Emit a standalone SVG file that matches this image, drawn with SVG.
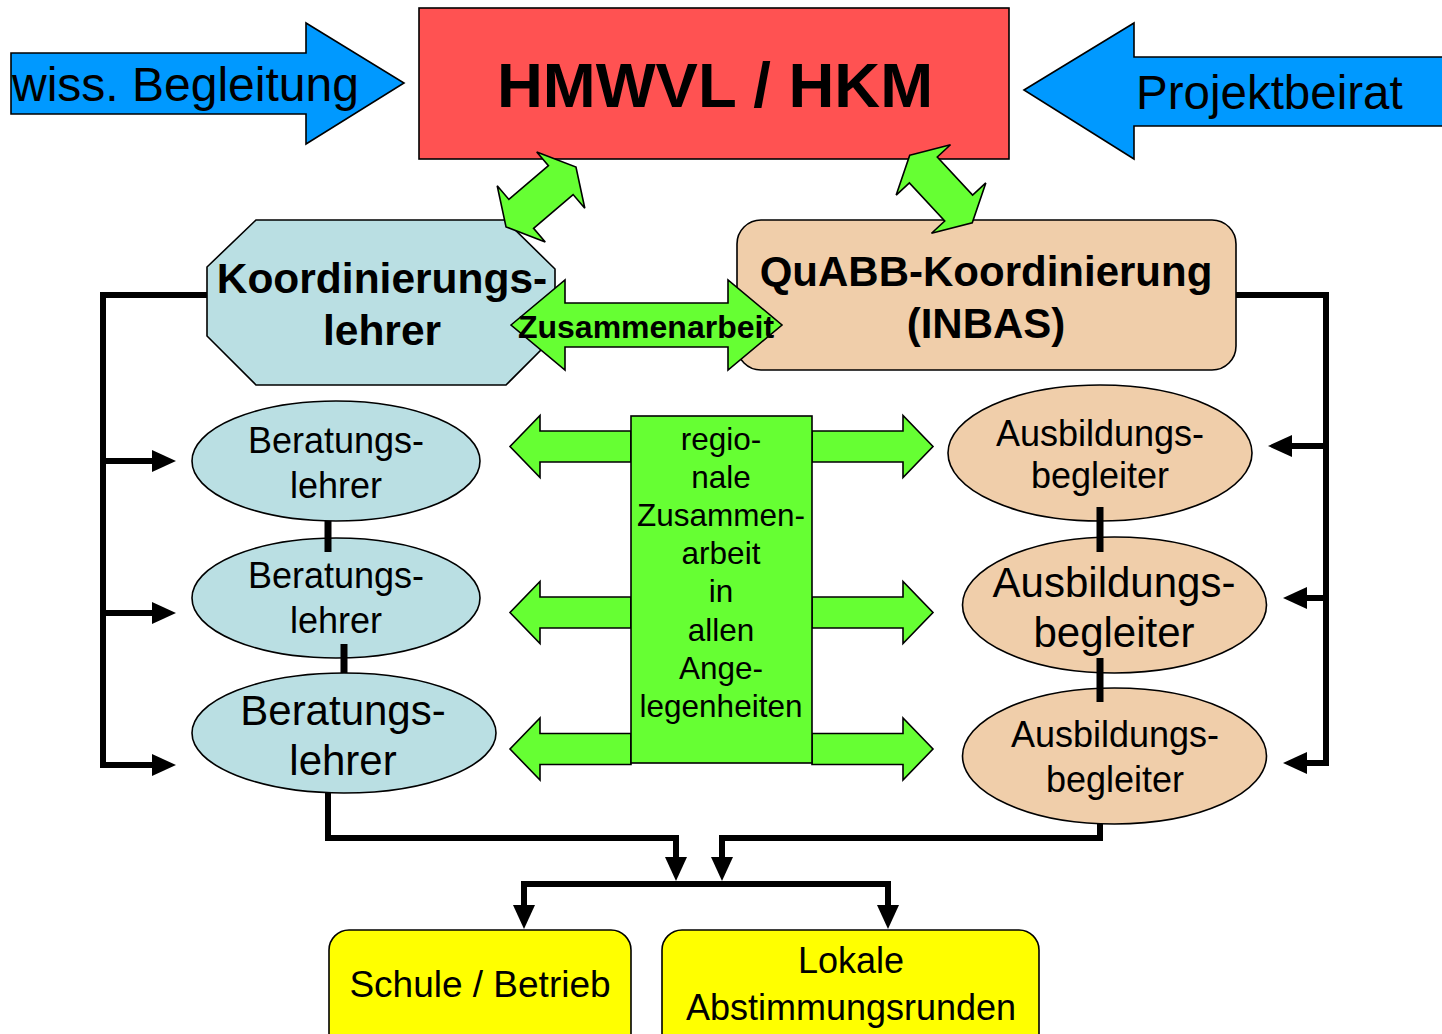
<svg xmlns="http://www.w3.org/2000/svg" width="1442" height="1034" viewBox="0 0 1442 1034">
<style>
text{font-family:"Liberation Sans",Arial,Helvetica,sans-serif;fill:#000}
.b{font-weight:bold}
.c{text-anchor:middle}
.ol{stroke:#000;stroke-width:1.6;stroke-linejoin:miter}
.blue{fill:#0099FF}
.red{fill:#FF5252}
.lb{fill:#BADFE3}
.pe{fill:#F0CEAA}
.gr{fill:#66FF33}
.ye{fill:#FFFF00}
.ln{fill:none;stroke:#000;stroke-width:6;stroke-linejoin:miter;stroke-linecap:butt}
.lk{fill:none;stroke:#000;stroke-width:7}
</style>
<defs>
<marker id="ah" viewBox="0 0 24 22" markerWidth="24" markerHeight="22" refX="1" refY="11" orient="auto-start-reverse" markerUnits="userSpaceOnUse">
<path d="M0,0 L24,11 L0,22 Z" fill="#000"/>
</marker>
<polygon id="dbl" points="-46,0 -26,-37 -26,-19 26,-19 26,-37 46,0 26,37 26,19 -26,19 -26,37"/>
<polygon id="sl" points="0,-15.5 -91,-15.5 -91,-31 -121,0 -91,31 -91,15.5 0,15.5"/>
<polygon id="sr" points="0,-15.5 91,-15.5 91,-31 121,0 91,31 91,15.5 0,15.5"/>
</defs>

<g id="wiss">
<polygon class="blue ol" points="11,53 306,53 306,23 404,83 306,144 306,114 11,114"/>
<text x="12" y="101" font-size="48">wiss. Begleitung</text>
</g>

<g id="projektbeirat">
<polygon class="blue ol" points="1024,90 1134,23 1134,57 1450,57 1450,126 1134,126 1134,159"/>
<text x="1136" y="109" font-size="47.5">Projektbeirat</text>
</g>

<g id="hmwvl">
<rect class="red ol" x="419" y="8" width="590" height="151"/>
<text class="b c" x="715" y="107" font-size="63.5">HMWVL / HKM</text>
</g>

<g id="koordinierungslehrer">
<polygon class="lb ol" points="256,220 505,220 555,269 555,336 506,385 256,385 207,336 207,267"/>
<text class="b c" x="382" y="293" font-size="42.5">Koordinierungs-</text>
<text class="b c" x="382" y="345" font-size="42.5">lehrer</text>
</g>

<g id="quabb">
<rect class="pe ol" x="737" y="220" width="499" height="150" rx="24" ry="24"/>
<text class="b c" x="986" y="286" font-size="42">QuABB-Koordinierung</text>
<text class="b c" x="986" y="338" font-size="42">(INBAS)</text>
</g>

<g id="beratung1">
<ellipse class="lb ol" cx="336" cy="461" rx="144" ry="60"/>
<text class="c" x="336" y="453" font-size="36">Beratungs-</text>
<text class="c" x="336" y="498" font-size="36">lehrer</text>
</g>
<g id="beratung2">
<ellipse class="lb ol" cx="336" cy="598" rx="144" ry="60"/>
<text class="c" x="336" y="588" font-size="36">Beratungs-</text>
<text class="c" x="336" y="633" font-size="36">lehrer</text>
</g>
<g id="beratung3">
<ellipse class="lb ol" cx="344" cy="733" rx="152" ry="60"/>
<text class="c" x="343" y="725" font-size="42">Beratungs-</text>
<text class="c" x="343" y="775" font-size="42">lehrer</text>
</g>

<g id="ausbildung1">
<ellipse class="pe ol" cx="1100" cy="453" rx="152" ry="68"/>
<text class="c" x="1100" y="446" font-size="36">Ausbildungs-</text>
<text class="c" x="1100" y="488" font-size="36">begleiter</text>
</g>
<g id="ausbildung2">
<ellipse class="pe ol" cx="1114.5" cy="605" rx="152" ry="68"/>
<text class="c" x="1114" y="597" font-size="42">Ausbildungs-</text>
<text class="c" x="1114" y="647" font-size="42">begleiter</text>
</g>
<g id="ausbildung3">
<ellipse class="pe ol" cx="1114.5" cy="756" rx="152" ry="68"/>
<text class="c" x="1115" y="747" font-size="36">Ausbildungs-</text>
<text class="c" x="1115" y="792" font-size="36">begleiter</text>
</g>

<g id="regional">
<use href="#sl" class="gr ol" x="631" y="446.5"/>
<use href="#sl" class="gr ol" x="631" y="612.5"/>
<use href="#sl" class="gr ol" x="631" y="749"/>
<use href="#sr" class="gr ol" x="812" y="446.5"/>
<use href="#sr" class="gr ol" x="812" y="612.5"/>
<use href="#sr" class="gr ol" x="812" y="749"/>
<rect class="gr ol" x="631" y="416" width="181" height="347"/>
<text class="c" x="721" y="450" font-size="31.5">regio-</text>
<text class="c" x="721" y="488" font-size="31.5">nale</text>
<text class="c" x="721" y="526" font-size="31.5">Zusammen-</text>
<text class="c" x="721" y="564" font-size="31.5">arbeit</text>
<text class="c" x="721" y="602" font-size="31.5">in</text>
<text class="c" x="721" y="641" font-size="31.5">allen</text>
<text class="c" x="721" y="679" font-size="31.5">Ange-</text>
<text class="c" x="721" y="717" font-size="31.5">legenheiten</text>
</g>

<g id="schule">
<rect class="ye ol" x="329" y="930" width="302" height="130" rx="20" ry="20"/>
<text class="c" x="480" y="997" font-size="37">Schule / Betrieb</text>
</g>
<g id="lokale">
<rect class="ye ol" x="662" y="930" width="377" height="130" rx="20" ry="20"/>
<text class="c" x="851" y="973" font-size="36">Lokale</text>
<text class="c" x="851" y="1020" font-size="36">Abstimmungsrunden</text>
</g>

<g id="connectors">
<use href="#dbl" class="gr ol" transform="translate(541,197) rotate(-40.5)"/>
<use href="#dbl" class="gr ol" transform="translate(941,189) rotate(47.2)"/>
<polygon class="gr ol" points="511,325 565,280 565,303 728,303 728,280 782,325 728,370 728,347 565,347 565,370"/>
<text class="b c" x="646" y="338" font-size="32">Zusammenarbeit</text>

<path class="ln" d="M207,295 H103 V765 H153" marker-end="url(#ah)"/>
<path class="ln" d="M103,461 H153" marker-end="url(#ah)"/>
<path class="ln" d="M103,613 H153" marker-end="url(#ah)"/>

<path class="ln" d="M1236,295 H1326 V763 H1306" marker-end="url(#ah)"/>
<path class="ln" d="M1326,446 H1291" marker-end="url(#ah)"/>
<path class="ln" d="M1326,598 H1306" marker-end="url(#ah)"/>

<path class="lk" d="M328,521 V552"/>
<path class="lk" d="M344,644 V673"/>
<path class="lk" d="M1100,507 V552"/>
<path class="lk" d="M1100,658 V702"/>

<path class="ln" d="M328,793 V838 H676 V858" marker-end="url(#ah)"/>
<path class="ln" d="M1100,824 V838 H722 V858" marker-end="url(#ah)"/>
<path class="ln" d="M524,906 V884 H888 V906" marker-start="url(#ah)" marker-end="url(#ah)"/>
</g>
</svg>
